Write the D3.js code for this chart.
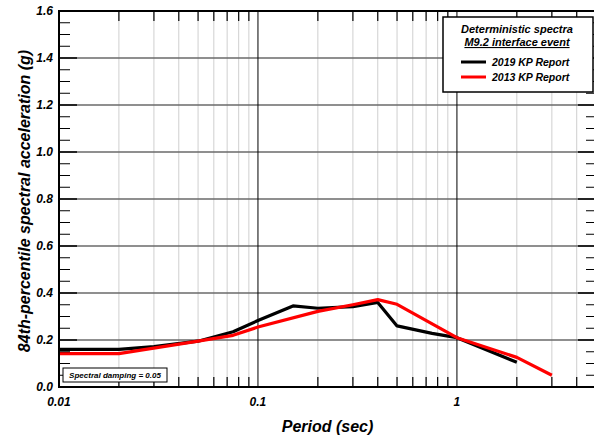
<!DOCTYPE html>
<html>
<head>
<meta charset="utf-8">
<script src="https://cdn.jsdelivr.net/npm/d3@7"></script>
<style>
    body { margin: 0; background: #fff; }
    svg { display: block; }
    text { font-family: "Liberation Sans", Arial, sans-serif; font-weight: bold; font-style: italic; }
</style>
</head>
<body>
<svg id="chart" width="594" height="439"></svg>
<script>
/***************************************************************
    Data
****************************************************************/
const periods2019 = [0.01, 0.02, 0.03, 0.05, 0.075, 0.1, 0.15, 0.2, 0.3, 0.4, 0.5, 0.75, 1.0, 2.0];
const sa2019      = [0.16, 0.16, 0.172, 0.195, 0.235, 0.283, 0.345, 0.335, 0.342, 0.36, 0.26, 0.228, 0.21, 0.105];

const periods2013 = [0.01, 0.02, 0.05, 0.075, 0.1, 0.2, 0.3, 0.4, 0.5, 1.0, 2.0, 3.0];
const sa2013      = [0.142, 0.142, 0.195, 0.22, 0.255, 0.322, 0.35, 0.372, 0.352, 0.21, 0.126, 0.05];

const yTicks = [0.0, 0.2, 0.4, 0.6, 0.8, 1.0, 1.2, 1.4, 1.6];
const xTicks = [0.01, 0.1, 1];
const seriesNames = ["2019 KP Report", "2013 KP Report"];
const seriesColors = ["#000000", "#ff0000"];

/***************************************************************
    Layout
****************************************************************/
const pLeft = 59, pRight = 596, pTop = 11, pBottom = 387;
const svg = d3.select("#chart");

var x = d3.scaleLog().domain([0.01, 5]).range([pLeft, pRight]);
var y = d3.scaleLinear().domain([0, 1.6]).range([pBottom, pTop]);

drawGrid();
drawSeries(periods2019, sa2019, seriesColors[0]);
drawSeries(periods2013, sa2013, seriesColors[1]);
drawFrame();
drawLabels();
drawLegend();
drawDampingNote();

/***************************************************************
    Graph Logic
****************************************************************/
function minorPeriods() {
    let out = [];
    [0.01, 0.1, 1].forEach(d => {
        for (let k = 2; k <= 9; k++) {
            let v = d * k;
            if (v < 5) out.push(v);
        }
    });
    return out;
}

function drawGrid() {
    let g = svg.append("g");
    // light vertical minor grid
    g.selectAll("line.vminor").data(minorPeriods()).enter().append("line")
        .attr("x1", d => x(d)).attr("x2", d => x(d))
        .attr("y1", pTop).attr("y2", pBottom)
        .attr("stroke", "#cfcfcf").attr("stroke-width", 1);
    // horizontal grid
    g.selectAll("line.h").data(yTicks.slice(1, -1)).enter().append("line")
        .attr("x1", pLeft).attr("x2", pRight)
        .attr("y1", d => y(d)).attr("y2", d => y(d))
        .attr("stroke", "#6a6a6a").attr("stroke-width", 1.6);
    // major vertical lines at decades
    g.selectAll("line.vmajor").data([0.1, 1]).enter().append("line")
        .attr("x1", d => x(d)).attr("x2", d => x(d))
        .attr("y1", pTop).attr("y2", pBottom)
        .attr("stroke", "#000").attr("stroke-width", 1);
}

function drawSeries(px, py, color) {
    let pts = px.map((p, i) => [p, py[i]]);
    let line = d3.line().x(d => x(d[0])).y(d => y(d[1]));
    svg.append("path").datum(pts)
        .attr("d", line)
        .attr("fill", "none")
        .attr("stroke", color)
        .attr("stroke-width", 3.2)
        .attr("stroke-linejoin", "round");
}

function drawFrame() {
    let g = svg.append("g");
    let minorY = d3.range(0, 33).map(i => i * 0.05).filter(v => Math.round(v * 100) % 20 !== 0);
    // left ticks
    g.selectAll("line.lmin").data(minorY).enter().append("line")
        .attr("x1", pLeft).attr("x2", pLeft + 11)
        .attr("y1", d => y(d)).attr("y2", d => y(d))
        .attr("stroke", "#000").attr("stroke-width", 1);
    g.selectAll("line.lmaj").data(yTicks).enter().append("line")
        .attr("x1", pLeft).attr("x2", pLeft + 18)
        .attr("y1", d => y(d)).attr("y2", d => y(d))
        .attr("stroke", "#000").attr("stroke-width", 1.5);
    // right ticks
    g.selectAll("line.rmin").data(minorY).enter().append("line")
        .attr("x1", pRight - 10).attr("x2", pRight)
        .attr("y1", d => y(d)).attr("y2", d => y(d))
        .attr("stroke", "#000").attr("stroke-width", 1);
    g.selectAll("line.rmaj").data(yTicks).enter().append("line")
        .attr("x1", pRight - 18).attr("x2", pRight)
        .attr("y1", d => y(d)).attr("y2", d => y(d))
        .attr("stroke", "#000").attr("stroke-width", 1.5);
    // bottom / top minor ticks
    g.selectAll("line.bmin").data(minorPeriods()).enter().append("line")
        .attr("x1", d => x(d)).attr("x2", d => x(d))
        .attr("y1", pBottom).attr("y2", pBottom - 10)
        .attr("stroke", "#000").attr("stroke-width", 1.2);
    g.selectAll("line.tmin").data(minorPeriods()).enter().append("line")
        .attr("x1", d => x(d)).attr("x2", d => x(d))
        .attr("y1", pTop).attr("y2", pTop + 10)
        .attr("stroke", "#000").attr("stroke-width", 1.2);
    // frame
    g.append("rect")
        .attr("x", pLeft).attr("y", pTop)
        .attr("width", pRight - pLeft).attr("height", pBottom - pTop)
        .attr("fill", "none").attr("stroke", "#000").attr("stroke-width", 2);
}

function drawLabels() {
    svg.append("g").selectAll("text").data(yTicks).enter().append("text")
        .attr("x", pLeft - 6).attr("y", d => y(d)).attr("dy", "0.35em")
        .attr("text-anchor", "end").attr("font-size", 12)
        .text(d => d.toFixed(1));
    svg.append("g").selectAll("text").data(xTicks).enter().append("text")
        .attr("x", d => x(d)).attr("y", 406)
        .attr("text-anchor", "middle").attr("font-size", 12)
        .text(d => d3.format("")(d));
    svg.append("text")
        .attr("x", (pLeft + pRight) / 2).attr("y", 432)
        .attr("text-anchor", "middle").attr("font-size", 16)
        .text("Period (sec)");
    svg.append("text")
        .attr("transform", "translate(30,201) rotate(-90)")
        .attr("text-anchor", "middle").attr("font-size", 16)
        .text("84th-percentile spectral acceleration (g)");
}

function drawLegend() {
    let g = svg.append("g").attr("transform", "translate(443,17)");
    g.append("rect").attr("width", 150).attr("height", 75)
        .attr("fill", "#fff").attr("stroke", "#000").attr("stroke-width", 1.5);
    g.append("text").attr("x", 74).attr("y", 16).attr("text-anchor", "middle")
        .attr("font-size", 11).text("Deterministic spectra");
    g.append("text").attr("x", 74).attr("y", 29).attr("text-anchor", "middle")
        .attr("font-size", 11).attr("text-decoration", "underline").text("M9.2 interface event");
    seriesNames.forEach((name, i) => {
        let yy = 45 + i * 15;
        g.append("line").attr("x1", 18).attr("x2", 43).attr("y1", yy).attr("y2", yy)
            .attr("stroke", seriesColors[i]).attr("stroke-width", 3);
        g.append("text").attr("x", 49).attr("y", yy).attr("dy", "0.35em")
            .attr("font-size", 10.5).text(name);
    });
}

function drawDampingNote() {
    let g = svg.append("g").attr("transform", "translate(63,368)");
    g.append("rect").attr("width", 104).attr("height", 14)
        .attr("fill", "#fff").attr("stroke", "#000").attr("stroke-width", 1);
    g.append("text").attr("x", 52).attr("y", 7).attr("dy", "0.35em").attr("text-anchor", "middle")
        .attr("font-size", 8).text("Spectral damping = 0.05");
}
</script>
</body>
</html>
